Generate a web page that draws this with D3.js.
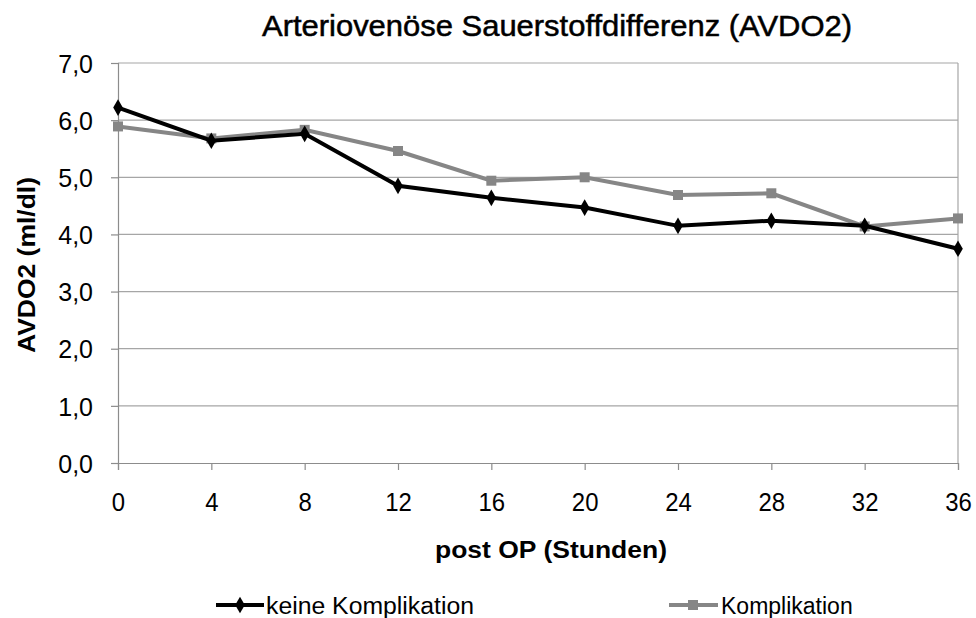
<!DOCTYPE html>
<html>
<head>
<meta charset="utf-8">
<script src="https://cdn.jsdelivr.net/npm/d3@7"></script>
<style>
  body { margin: 0; background: #fff; }
  text { font-family: Arial, "Liberation Sans", sans-serif; fill: #000; }
</style>
</head>
<body>
<svg id="chart" width="976" height="618"></svg>
<script>
// data
const hours = [0, 4, 8, 12, 16, 20, 24, 28, 32, 36];
const keineKomplikation = [6.22, 5.64, 5.76, 4.85, 4.64, 4.47, 4.15, 4.24, 4.15, 3.75];
const komplikation = [5.89, 5.68, 5.83, 5.46, 4.94, 5.0, 4.69, 4.72, 4.14, 4.28];
const yTicks = [0, 1, 2, 3, 4, 5, 6, 7];

const svg = d3.select('#chart');

const x = d3.scaleLinear().domain([0, 36]).range([118, 958]);
const y = d3.scaleLinear().domain([0, 7]).range([463, 63]);
const fmt = d => d.toFixed(1).replace('.', ',');

// gridlines
svg.append('g')
  .selectAll('line')
  .data(yTicks.slice(1))
  .join('line')
  .attr('x1', x(0))
  .attr('x2', x(36))
  .attr('y1', d => y(d))
  .attr('y2', d => y(d))
  .style('stroke', '#a6a6a6')
  .style('stroke-width', 1.2);

// right border of plot
svg.append('line')
  .attr('x1', x(36)).attr('x2', x(36))
  .attr('y1', y(7)).attr('y2', y(0))
  .style('stroke', '#a6a6a6')
  .style('stroke-width', 1.2);

// y axis
const yAxis = svg.append('g')
  .attr('transform', `translate(${x(0)},0)`)
  .call(d3.axisLeft(y).tickValues(yTicks).tickFormat(fmt).tickSize(7).tickPadding(18));
yAxis.select('.domain').style('stroke', '#8c8c8c').style('stroke-width', 1.2);
yAxis.selectAll('.tick line').style('stroke', '#8c8c8c').style('stroke-width', 1.2);
yAxis.selectAll('.tick text')
  .style('font-size', '25px')
  .style('font-family', 'Arial, "Liberation Sans", sans-serif')
  .attr('dy', '0.37em');

// x axis
const xAxis = svg.append('g')
  .attr('transform', `translate(0,${y(0)})`)
  .call(d3.axisBottom(x).tickValues(hours).tickFormat(d3.format('d')).tickSize(7).tickPadding(23));
xAxis.select('.domain').style('stroke', '#8c8c8c').style('stroke-width', 1.2);
xAxis.selectAll('.tick line').style('stroke', '#8c8c8c').style('stroke-width', 1.2);
xAxis.selectAll('.tick text')
  .style('font-size', '26px')
  .style('font-family', 'Arial, "Liberation Sans", sans-serif')
  .each(function () {
    // the reference digits are a bit narrow
    const w = this.getComputedTextLength();
    d3.select(this).attr('textLength', w * 0.92).attr('lengthAdjust', 'spacingAndGlyphs');
  });

// lines
const line = d3.line().x((d, i) => x(hours[i])).y(d => y(d));

svg.append('path')
  .datum(komplikation)
  .attr('d', line)
  .style('fill', 'none')
  .style('stroke', '#868686')
  .style('stroke-width', 4);

svg.append('g')
  .selectAll('rect')
  .data(komplikation)
  .join('rect')
  .attr('x', (d, i) => x(hours[i]) - 5)
  .attr('y', d => y(d) - 5)
  .attr('width', 10)
  .attr('height', 10)
  .style('fill', '#868686');

svg.append('path')
  .datum(keineKomplikation)
  .attr('d', line)
  .style('fill', 'none')
  .style('stroke', '#000')
  .style('stroke-width', 4);

const diamond = d3.symbol().type(d3.symbolDiamond).size(80);
svg.append('g')
  .selectAll('path')
  .data(keineKomplikation)
  .join('path')
  .attr('d', diamond)
  .attr('transform', (d, i) => `translate(${x(hours[i])},${y(d)})`)
  .style('fill', '#000');

// title
svg.append('text')
  .attr('x', 557)
  .attr('y', 36)
  .attr('text-anchor', 'middle')
  .style('font-size', '29px')
  .style('stroke', '#000')
  .style('stroke-width', 0.5)
  .attr('textLength', 590)
  .attr('lengthAdjust', 'spacingAndGlyphs')
  .text('Arteriovenöse Sauerstoffdifferenz (AVDO2)');

// axis titles
svg.append('text')
  .attr('transform', 'translate(35,265) rotate(-90)')
  .attr('text-anchor', 'middle')
  .style('font-size', '24px')
  .style('font-weight', 'bold')
  .attr('textLength', 176)
  .attr('lengthAdjust', 'spacingAndGlyphs')
  .text('AVDO2 (ml/dl)');

svg.append('text')
  .attr('x', 551)
  .attr('y', 558)
  .attr('text-anchor', 'middle')
  .style('font-size', '24px')
  .style('font-weight', 'bold')
  .attr('textLength', 232)
  .attr('lengthAdjust', 'spacingAndGlyphs')
  .text('post OP (Stunden)');

// legend
const legend = svg.append('g');
legend.append('line')
  .attr('x1', 216).attr('x2', 264).attr('y1', 605).attr('y2', 605)
  .style('stroke', '#000').style('stroke-width', 4);
legend.append('path')
  .attr('d', diamond)
  .attr('transform', 'translate(240,605)')
  .style('fill', '#000');
legend.append('text')
  .attr('x', 266).attr('y', 614)
  .style('font-size', '23px')
  .attr('textLength', 208)
  .attr('lengthAdjust', 'spacingAndGlyphs')
  .text('keine Komplikation');

legend.append('line')
  .attr('x1', 669).attr('x2', 718).attr('y1', 605).attr('y2', 605)
  .style('stroke', '#868686').style('stroke-width', 4);
legend.append('rect')
  .attr('x', 688).attr('y', 600).attr('width', 10).attr('height', 10)
  .style('fill', '#868686');
legend.append('text')
  .attr('x', 721).attr('y', 614)
  .style('font-size', '23px')
  .text('Komplikation');
</script>
</body>
</html>
